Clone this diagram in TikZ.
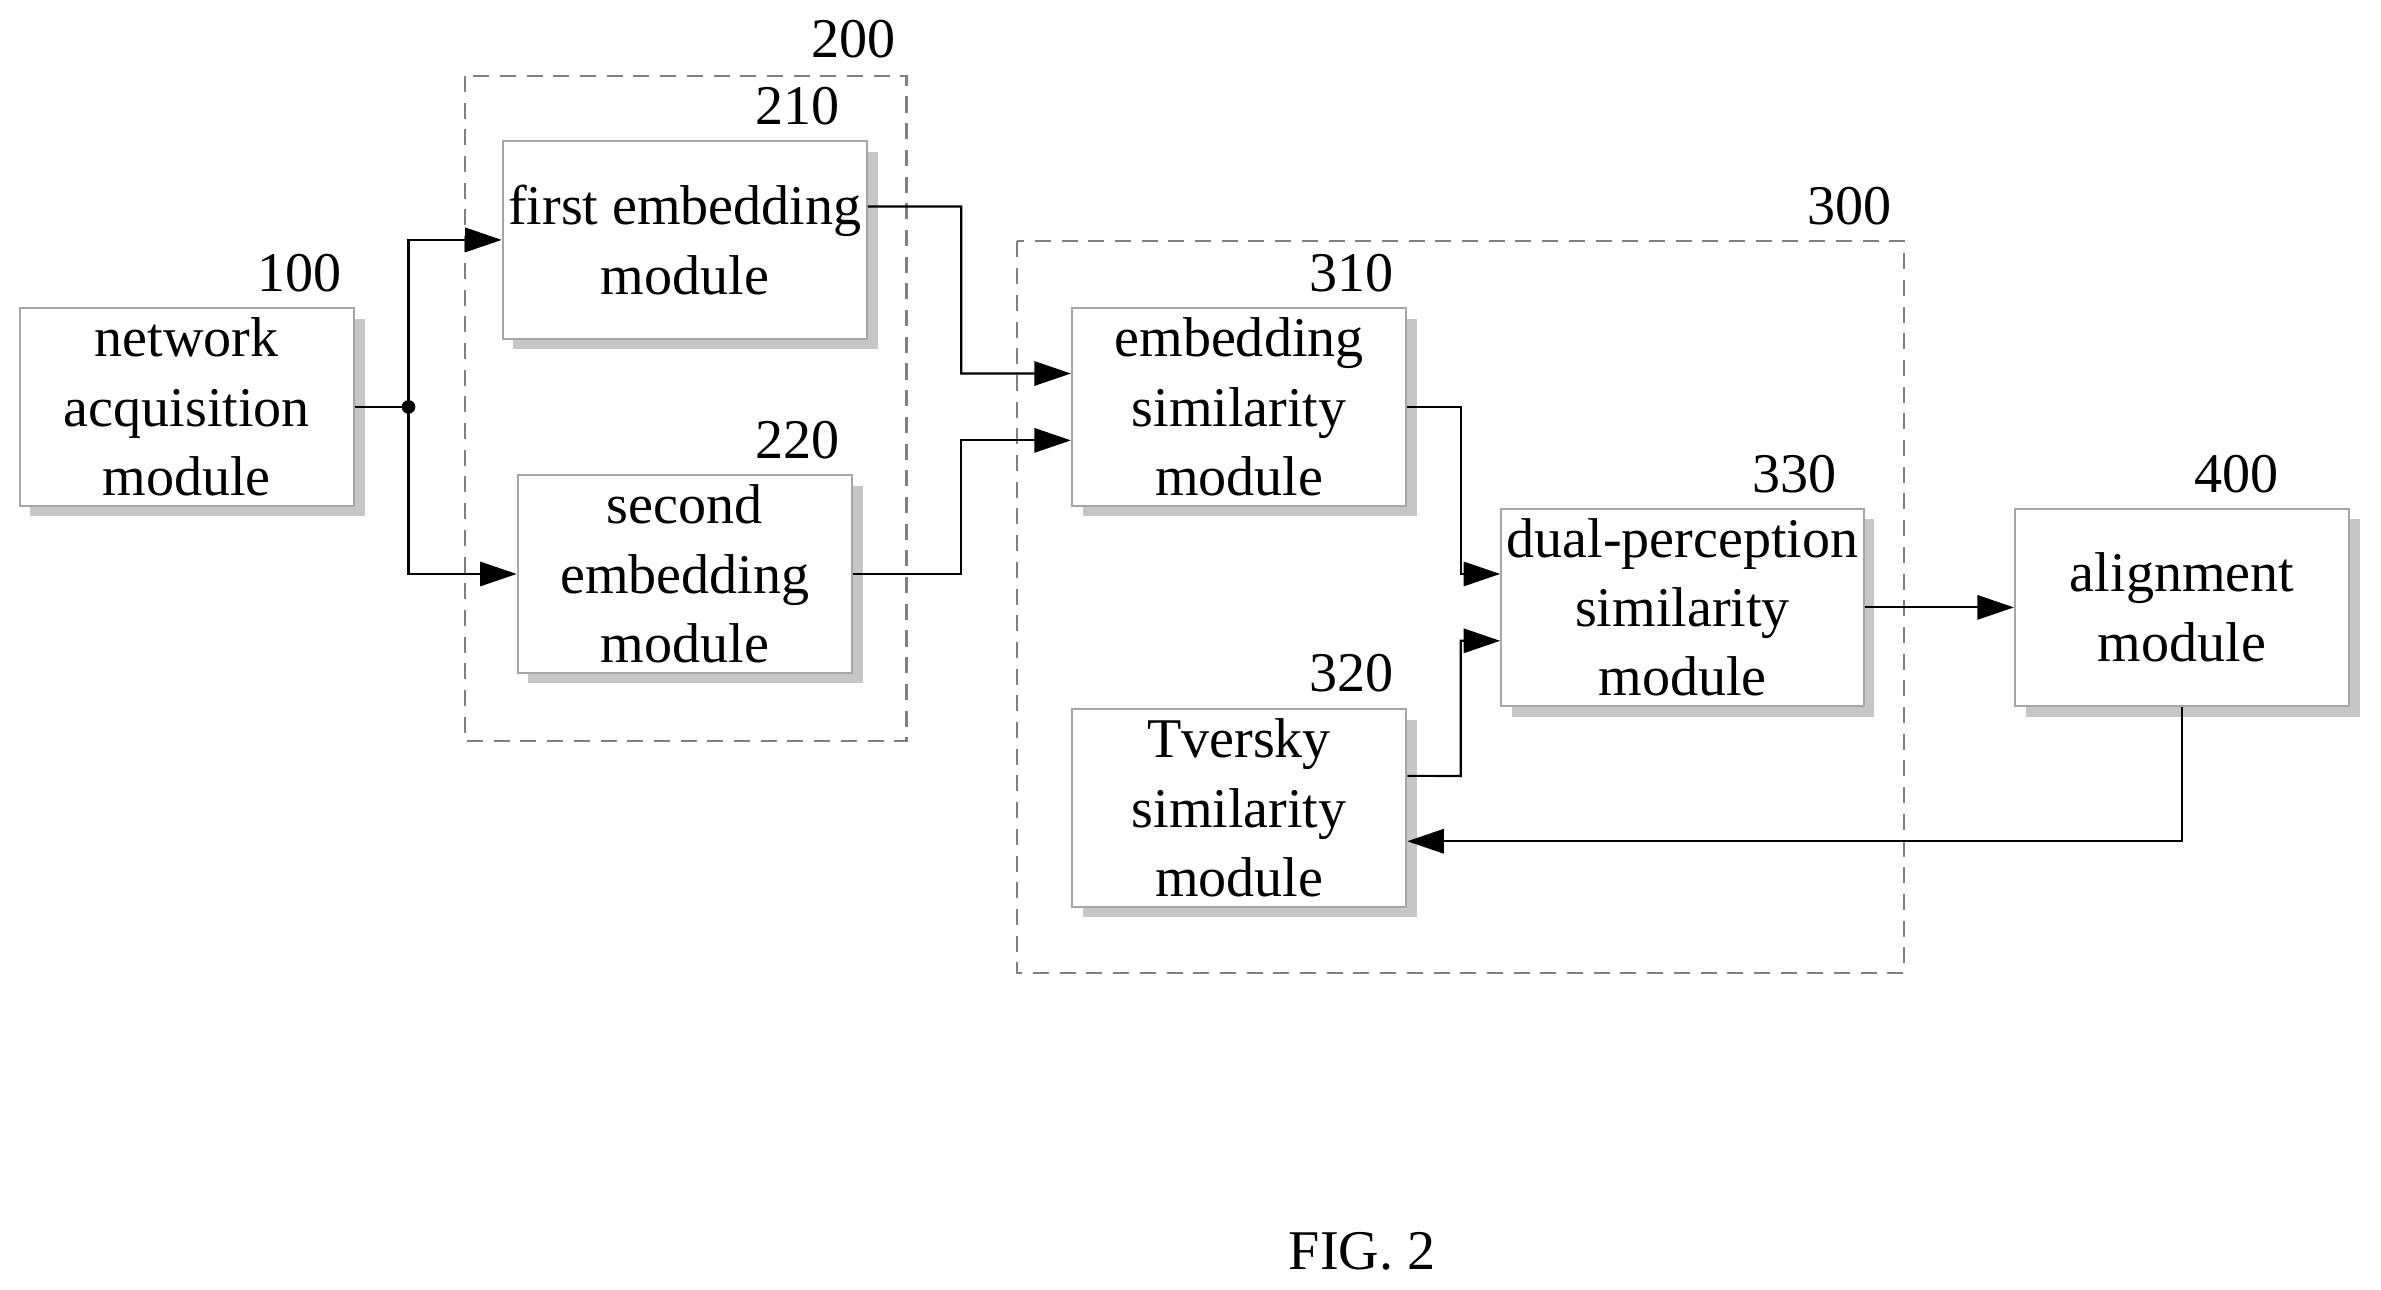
\documentclass[tikz,border=0pt]{standalone}
\usepackage{fontspec}
\setmainfont{Liberation Serif}
\usetikzlibrary{arrows.meta,positioning}
\begin{document}
\begin{tikzpicture}[x=0.01cm,y=-0.01cm]
  \tikzset{module/.style={rectangle,draw=gray!70,fill=white,minimum width=2.2cm,minimum height=1.3cm,align=center,inner sep=1pt,
      font=\fontsize{10.5}{13}\selectfont,
      preaction={draw=none,fill=gray!45,transform canvas={xshift=0.07cm,yshift=-0.07cm}}},
    group/.style={draw=gray,densely dashed,thin},
    num/.style={font=\fontsize{10.5}{13}\selectfont},
    link/.style={thin,-{Triangle[length=2.4mm,width=1.6mm]}}}
  \useasboundingbox (0,0) rectangle (1568,849);
  % groups
  \draw[group] (306,50) rectangle (597,488);
  \draw[group] (670,159) rectangle (1254,641);
  \node[num] at (562,26) {200};
  \node[num] at (1218,136) {300};
  % modules
  \node[module] (acq) at (123,268) {network\\acquisition\\module};
  \node[module] (emb1) at (451,158) {first embedding\\module};
  \node[module] (emb2) at (451,378) {second\\embedding\\module};
  \node[module] (esim) at (816,268) {embedding\\similarity\\module};
  \node[module] (tsim) at (816,532) {Tversky\\similarity\\module};
  \node[module] (dsim) at (1108,400) {dual-perception\\similarity\\module};
  \node[module] (align) at (1437,400) {alignment\\module};
  % numbers
  \node[num] at (197,180) {100};
  \node[num] at (525,70) {210};
  \node[num] at (525,290) {220};
  \node[num] at (890,180) {310};
  \node[num] at (890,443) {320};
  \node[num] at (1182,312) {330};
  \node[num] at (1473,312) {400};
  \node[font=\fontsize{10.5}{13}\selectfont] (fig) at (897,824) {FIG. 2};
  % connectors
  \coordinate (split) at (269,268);
  \draw[thin] (acq.east) -- (split);
  \fill (split) circle (0.045cm);
  \draw[link] (split) |- (emb1.west);
  \draw[link] (split) |- (emb2.west);
  \draw[link] ([yshift=0.22cm]emb1.east) -- (633,136) |- ([yshift=0.22cm]esim.west);
  \draw[link] (emb2.east) -- (633,378) |- ([yshift=-0.22cm]esim.west);
  \draw[link] (esim.east) -- (962,268) |- ([yshift=0.22cm]dsim.west);
  \draw[link] ([yshift=0.21cm]tsim.east) -- (962,511) |- ([yshift=-0.22cm]dsim.west);
  \draw[link] (dsim.east) -- (align.west);
  \draw[link] (align.south) |- ([yshift=-0.22cm]tsim.east);
\end{tikzpicture}
\end{document}
